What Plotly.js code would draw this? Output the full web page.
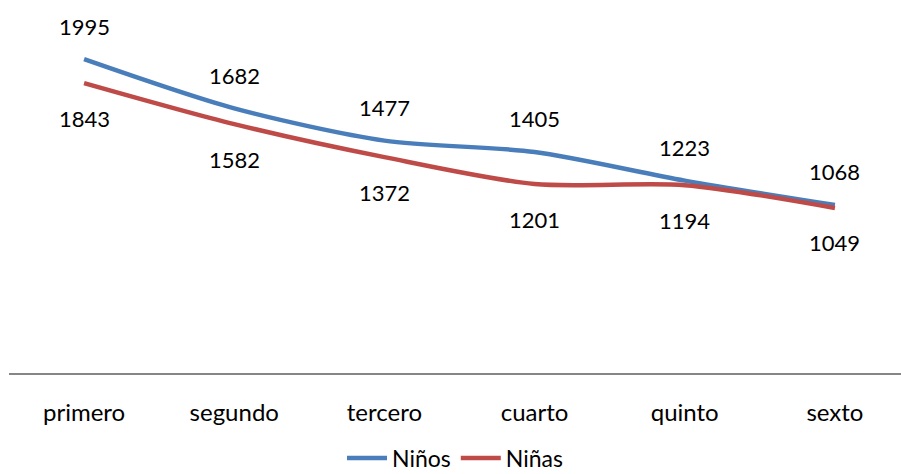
<!DOCTYPE html>
<html>
<head>
<meta charset="utf-8">
<script src="https://cdn.plot.ly/plotly-3.0.1.min.js"></script>
<style>html,body{margin:0;padding:0;background:#fff;overflow:hidden;}#chart{width:901px;height:490px;}</style>
</head>
<body>
<div id="chart"></div>
<script>
const categories = ["primero", "segundo", "tercero", "cuarto", "quinto", "sexto"];
const ninos = [1995, 1682, 1477, 1405, 1223, 1068];
const ninas = [1843, 1582, 1372, 1201, 1194, 1049];
const seriesNames = ["Niños", "Niñas"];
const colors = ["#4A7EBB", "#BE4B48"];

const FONT = "Lato, 'Open Sans', sans-serif";
const H = 490;

const traces = [
  {x: categories, y: ninos, name: seriesNames[0], type: "scatter", mode: "lines",
   line: {color: colors[0], width: 4.5, shape: "spline", smoothing: 0.8}},
  {x: categories, y: ninas, name: seriesNames[1], type: "scatter", mode: "lines",
   line: {color: colors[1], width: 4.5, shape: "spline", smoothing: 0.8}}
];

const annotations = [];
categories.forEach((c, i) => {
  annotations.push({x: c, y: ninos[i], text: String(ninos[i]), showarrow: false,
    yshift: 33, font: {family: FONT, size: 22, color: "#000"}});
  annotations.push({x: c, y: ninas[i], text: String(ninas[i]), showarrow: false,
    yshift: -35, font: {family: FONT, size: 22, color: "#000"}});
});

const layout = {
  width: 901, height: H,
  margin: {l: 9, r: 0, t: 0, b: 0},
  paper_bgcolor: "#fff", plot_bgcolor: "#fff",
  showlegend: true,
  legend: {orientation: "h", x: 0.5, xanchor: "center", y: (H - 458) / H, yanchor: "middle",
    font: {family: FONT, size: 23, color: "#000"}, itemwidth: 40, tracegroupgap: 0,
    bgcolor: "rgba(0,0,0,0)"},
  xaxis: {type: "category", range: [-0.5, 5.44], showline: true, linecolor: "#868686", linewidth: 1.5,
    showgrid: false, zeroline: false, ticks: "", ticklabelstandoff: 18, automargin: false,
    tickfont: {family: FONT, size: 24, color: "#000"}},
  yaxis: {range: [0, 2371], domain: [(H - 373) / H, 1], visible: false, showgrid: false, zeroline: false},
  annotations: annotations,
  font: {family: FONT}
};

Plotly.newPlot("chart", traces, layout, {displayModeBar: false, staticPlot: true});
</script>
</body>
</html>
